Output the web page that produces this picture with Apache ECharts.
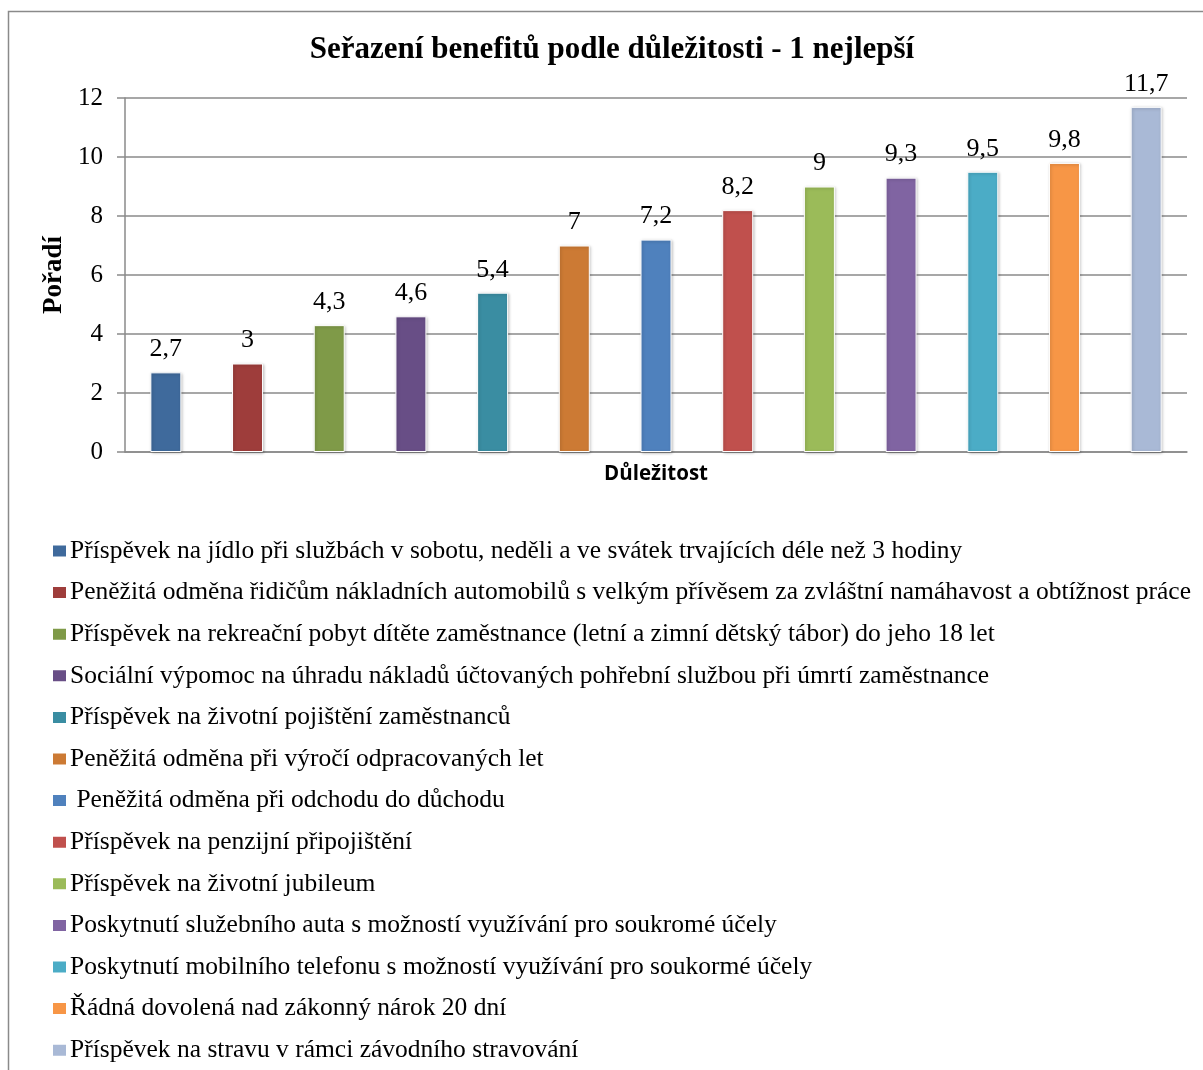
<!DOCTYPE html>
<html>
<head>
<meta charset="utf-8">
<script src="https://cdn.jsdelivr.net/npm/echarts@6/dist/echarts.min.js"></script>
<style>
  html, body { margin: 0; padding: 0; background: #fff; }
  #chart { width: 1203px; height: 1070px; }
</style>
</head>
<body>
<div id="chart"></div>
<script>
const benefits = [
  "Příspěvek na jídlo při službách v sobotu, neděli a ve svátek trvajících déle než 3 hodiny",
  "Peněžitá odměna řidičům nákladních automobilů s velkým přívěsem za zvláštní namáhavost a obtížnost práce",
  "Příspěvek na rekreační pobyt dítěte zaměstnance (letní a zimní dětský tábor) do jeho 18 let",
  "Sociální výpomoc na úhradu nákladů účtovaných pohřební službou při úmrtí zaměstnance",
  "Příspěvek na životní pojištění zaměstnanců",
  "Peněžitá odměna při výročí odpracovaných let",
  " Peněžitá odměna při odchodu do důchodu",
  "Příspěvek na penzijní připojištění",
  "Příspěvek na životní jubileum",
  "Poskytnutí služebního auta s možností využívání pro soukromé účely",
  "Poskytnutí mobilního telefonu s možností využívání pro soukormé účely",
  "Řádná dovolená nad zákonný nárok 20 dní",
  "Příspěvek na stravu v rámci závodního stravování"
];
const values = [2.7, 3, 4.3, 4.6, 5.4, 7, 7.2, 8.2, 9, 9.3, 9.5, 9.8, 11.7];
const colors = ["#3F6A9C", "#9E3D3B", "#7F9A48", "#684E86", "#3A8DA2", "#CC7A34",
  "#4F81BD", "#C0504D", "#9BBB59", "#8064A2", "#4BACC6", "#F79646", "#A9B9D6"];
const yTicks = [0, 2, 4, 6, 8, 10, 12];

const serif = "'Liberation Serif', 'DejaVu Serif', serif";
const chart = echarts.init(document.getElementById("chart"));

// one series per benefit so each gets its own legend entry; stacking keeps them in one slot
const series = benefits.map((name, i) => ({
  name: name,
  type: "bar",
  stack: "all",
  barWidth: 31,
  itemStyle: {
    color: colors[i],
    borderColor: "#ffffff",
    borderWidth: 1,
    shadowColor: "rgba(0,0,0,0.25)",
    shadowBlur: 3,
    shadowOffsetX: 1,
    shadowOffsetY: 1
  },
  label: {
    show: true,
    position: "top",
    distance: 10,
    fontFamily: serif,
    fontSize: 26,
    color: "#000",
    formatter: (p) => String(p.value).replace(".", ",")
  },
  data: values.map((v, j) => (j === i ? v : "-"))
}));

chart.setOption({
  animation: false,
  color: colors,
  graphic: [{
    type: "rect",
    shape: { x: 8.5, y: 11.5, width: 1210, height: 1080 },
    style: { fill: "none", stroke: "#8a8a8a", lineWidth: 1.5 },
    silent: true
  }],
  title: {
    text: "Seřazení benefitů podle důležitosti - 1 nejlepší",
    left: 612,
    textAlign: "center",
    top: 34,
    padding: 0,
    textStyle: { fontFamily: serif, fontSize: 31, fontWeight: "bold", color: "#000" }
  },
  legend: {
    orient: "vertical",
    left: 51,
    top: 538,
    height: 530,
    padding: 0,
    itemWidth: 15,
    itemHeight: 13,
    itemGap: 15.6,
    icon: "rect",
    textStyle: { fontFamily: serif, fontSize: 25.5, lineHeight: 26, color: "#000", padding: [0, 0, 0, -2] },
    data: benefits
  },
  grid: { left: 125, right: 16, top: 98, bottom: 618 },
  xAxis: {
    type: "category",
    data: benefits,
    name: "Důležitost",
    nameLocation: "middle",
    nameGap: 12,
    nameTextStyle: { fontFamily: "'Open Sans', 'Liberation Sans', sans-serif", fontSize: 20.5, fontWeight: "bold", color: "#000" },
    axisLine: { lineStyle: { color: "#8a8a8a", width: 1.5 } },
    axisTick: { show: false },
    axisLabel: { show: false }
  },
  yAxis: {
    type: "value",
    min: yTicks[0],
    max: yTicks[yTicks.length - 1],
    interval: 2,
    name: "Pořadí",
    nameLocation: "middle",
    nameGap: 54,
    nameRotate: 90,
    nameTextStyle: { fontFamily: serif, fontSize: 27, fontWeight: "bold", color: "#000" },
    axisLine: { show: true, lineStyle: { color: "#8a8a8a", width: 1.5 } },
    axisTick: { show: true, length: 8, lineStyle: { color: "#8a8a8a", width: 1.5 } },
    axisLabel: { fontFamily: serif, fontSize: 25, color: "#000", margin: 22 },
    splitLine: { lineStyle: { color: "#8a8a8a", width: 1.5 } }
  },
  series: series
});
</script>
</body>
</html>
